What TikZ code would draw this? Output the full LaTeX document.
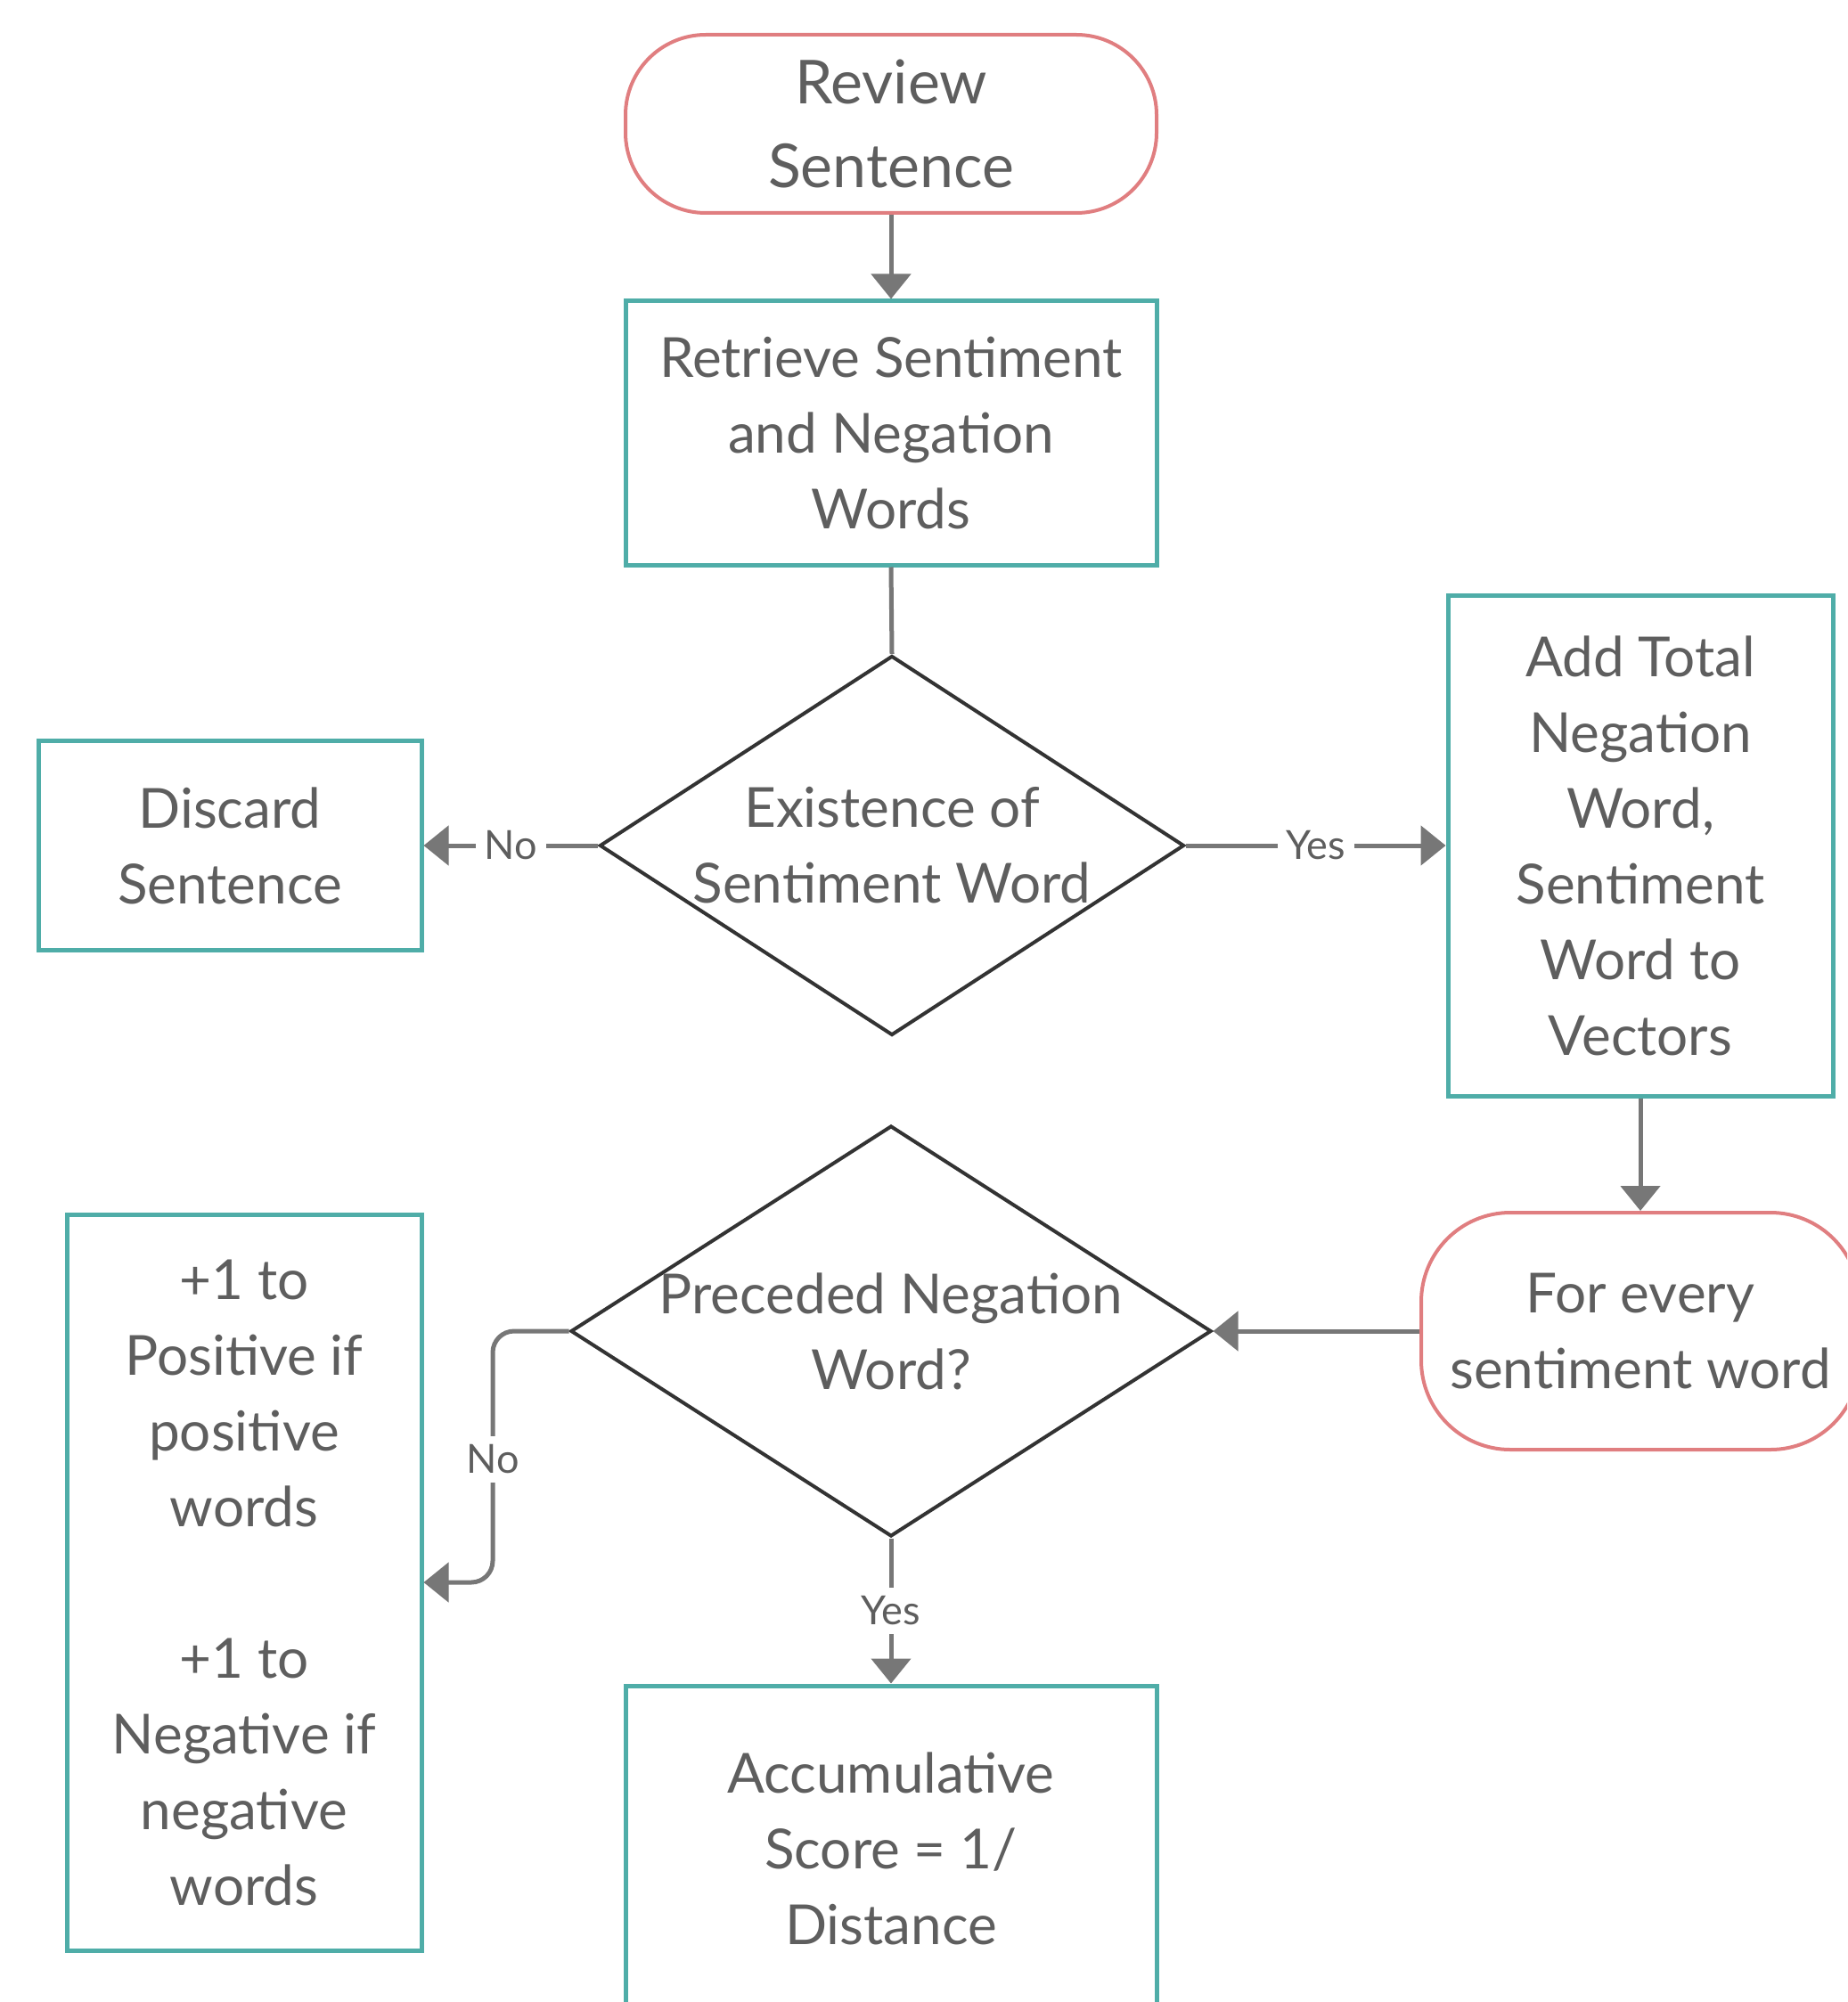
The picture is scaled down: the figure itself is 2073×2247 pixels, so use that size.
\documentclass[tikz,border=0pt]{standalone}
\usepackage{fontspec}
\setmainfont{Lato}
\usetikzlibrary{arrows.meta,shapes.geometric}
\definecolor{tealb}{HTML}{4FADA8}
\definecolor{redb}{HTML}{E07E80}
\definecolor{darkb}{HTML}{333333}
\definecolor{grayb}{HTML}{777777}
\definecolor{txtb}{HTML}{5E5E5E}
\begin{document}
\begin{tikzpicture}[x=0.5pt,y=-0.5pt,
  maintext/.style={align=center, text=txtb, font=\fontsize{31}{42.5}\selectfont},
  box/.style={rectangle, draw=tealb, line width=2.5pt, inner sep=0pt, maintext},
  term/.style={rectangle, draw=redb, line width=2pt, inner sep=0pt, maintext},
  dia/.style={diamond, draw=darkb, line width=2pt, inner sep=0pt},
  conn/.style={draw=grayb, line width=2.5pt, -{Triangle[length=14pt,width=22pt]}},
  plain/.style={draw=grayb, line width=2.5pt},
  lbl/.style={fill=white, text=txtb, inner sep=5pt, font=\fontsize{22.5}{26}\selectfont}
]
\useasboundingbox (0,0) rectangle (2073,2247);
\clip (0,0) rectangle (2073,2247);

\node[term, rounded corners=45pt, minimum width=298pt, minimum height=100pt,
      font=\fontsize{34}{47}\selectfont] (rev) at (1000,139) {Review\\Sentence};
\node[box, minimum width=298pt, minimum height=148pt] (ret) at (1000,486)
      {Retrieve Sentiment\\and Negation\\Words};
\node[dia, minimum width=328pt, minimum height=213pt,
      label={[maintext]center:{Existence of\\Sentiment Word}}] (d1) at (1001,949) {};
\node[box, minimum width=215pt, minimum height=117.5pt] (dis) at (258,949)
      {Discard\\Sentence};
\node[box, minimum width=216pt, minimum height=281pt] (add) at (1841,949)
      {Add Total\\Negation\\Word,\\Sentiment\\Word to\\Vectors};
\node[term, rounded corners=50pt, minimum width=246pt, minimum height=133pt] (fe) at (1841,1494)
      {For every\\sentiment word};
\node[dia, minimum width=359.5pt, minimum height=230.5pt,
      label={[maintext]center:{Preceded Negation\\Word?}}] (d2) at (1000,1494) {};
\node[box, minimum width=199pt, minimum height=413pt] (lb) at (274,1776)
      {+1 to\\Positive if\\positive\\words\\[42.5pt]+1 to\\Negative if\\negative\\words};
\node[box, minimum width=298pt, minimum height=183pt] (acc) at (1000,2075)
      {Accumulative\\Score = 1/\\Distance};

\coordinate (nk) at (553,1776);

\draw[conn] (rev.south) -- (ret.north);
\draw[plain] (ret.south) -- (d1.north);
\draw[conn] (d1.west) -- node[lbl]{No} (dis.east);
\draw[conn] (d1.east) -- node[lbl]{Yes} (add.west);
\draw[conn] (add.south) -- (fe.north);
\draw[conn] (fe.west) -- (d2.east);
\draw[conn, rounded corners=12pt] (d2.west) -| (nk) -- (lb.east);
\node[lbl] (nolbl) at (553,1638) {No};
\draw[conn] (d2.south) -- node[lbl]{Yes} (acc.north);
\end{tikzpicture}
\end{document}
